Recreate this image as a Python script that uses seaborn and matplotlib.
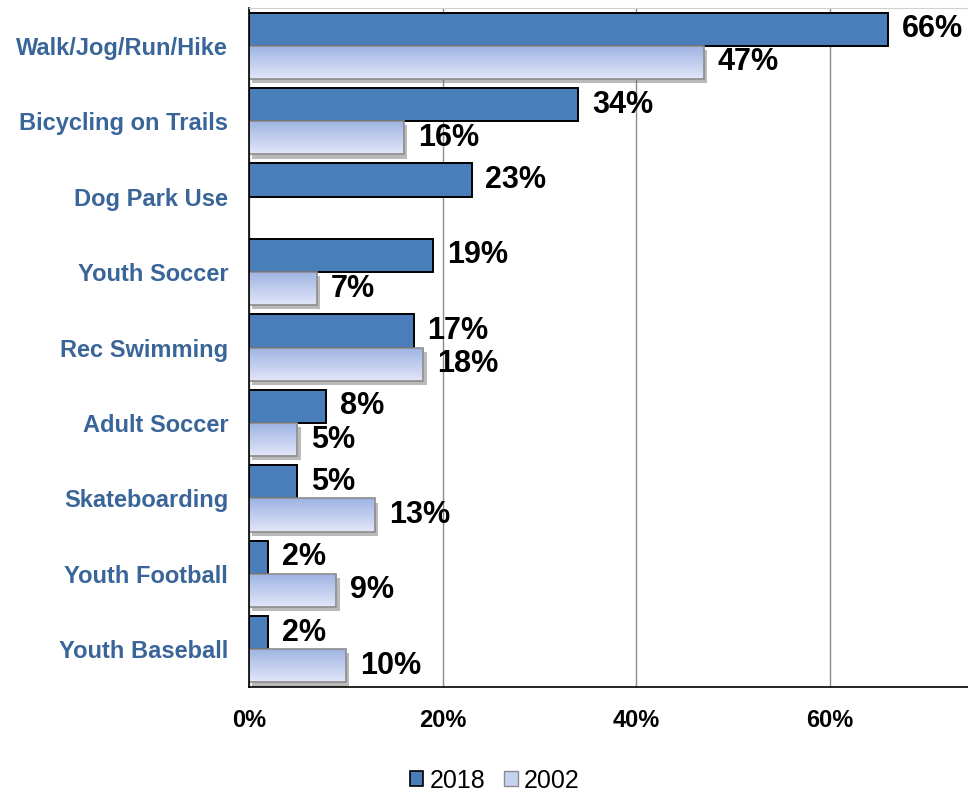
import numpy as np
import pandas as pd
import matplotlib
matplotlib.use('Agg')
import matplotlib.pyplot as plt
import matplotlib.patheffects as pe
from matplotlib.patches import Patch, Rectangle
from matplotlib.colors import to_rgb
import seaborn as sns

# data (percent of respondents)
activities = ['Walk/Jog/Run/Hike', 'Bicycling on Trails', 'Dog Park Use',
              'Youth Soccer', 'Rec Swimming', 'Adult Soccer',
              'Skateboarding', 'Youth Football', 'Youth Baseball']
pct_2018 = [66, 34, 23, 19, 17, 8, 5, 2, 2]
pct_2002 = [47, 16, None, 7, 18, 5, 13, 9, 10]
years = ['2018', '2002']
x_ticks = [0, 20, 40, 60]

rows = []
for act, a, b in zip(activities, pct_2018, pct_2002):
    rows.append((act, '2018', a))
    if b is not None:
        rows.append((act, '2002', b))
df = pd.DataFrame(rows, columns=['activity', 'year', 'pct'])

sns.set_style('white')
plt.rcParams['font.family'] = ['Liberation Sans', 'DejaVu Sans']
plt.rcParams['text.color'] = 'black'
plt.rcParams['xtick.color'] = 'black'
plt.rcParams['ytick.color'] = 'black'

dark = '#4A7EBB'
lab_col = '#3A6599'

fig = plt.figure(figsize=(9.68, 7.95), dpi=100)
ax = fig.add_axes([249 / 968, 1 - 687 / 795, (968 - 249) / 968, (687 - 8) / 795])

sns.barplot(data=df, y='activity', x='pct', hue='year', hue_order=years,
            order=activities, orient='h', width=0.88, saturation=1,
            palette={'2018': dark, '2002': 'white'},
            errorbar=None, legend=False, ax=ax)
ax.set_axisbelow(True)

# 2018 bars: solid with black outline
for p in ax.containers[0]:
    p.set_edgecolor('black')
    p.set_linewidth(1.4)

# 2002 bars: vertical gradient + soft shadow
top_c = np.array(to_rgb('#9DB3E3'))
bot_c = np.array(to_rgb('#E2E6F8'))
t = np.linspace(0, 1, 64)[:, None, None]
grad = top_c * (1 - t) + bot_c * t
for p in ax.containers[1]:
    p.set_edgecolor('none')
    p.set_path_effects([pe.SimplePatchShadow(offset=(2.5, -3), shadow_rgbFace='0.4', alpha=0.45),
                        pe.Normal()])
    x0, y0 = p.get_x(), p.get_y()
    w, h = p.get_width(), p.get_height()
    im = ax.imshow(grad, extent=(x0, x0 + w, y0 + h, y0), aspect='auto',
                   interpolation='bilinear', zorder=p.get_zorder() + 0.1)
    im.set_clip_path(p)
    ax.add_patch(Rectangle((x0, y0), w, h, fill=False, edgecolor='#8C8C8C',
                           linewidth=1.2, zorder=p.get_zorder() + 0.2))

for c in ax.containers:
    ax.bar_label(c, fmt='%.0f%%', padding=10, fontsize=22, fontweight='bold',
                 color='black')

ax.set_xlim(0, 74.3)
ax.set_ylim(len(activities) - 0.5, -0.5)
ax.set_xticks(x_ticks)
ax.set_xticklabels([f'{v}%' for v in x_ticks], fontsize=17, fontweight='bold')
ax.set_yticks(range(len(activities)))
ax.set_yticklabels(activities, fontsize=17, fontweight='bold', color=lab_col)
ax.set_yticks(np.arange(len(activities) + 1) - 0.5, minor=True)
ax.tick_params(axis='y', which='major', length=0, pad=15)
ax.tick_params(axis='y', which='minor', length=6, direction='out', color='black')
ax.tick_params(axis='x', length=4, direction='out', pad=12, color='black')
ax.set_xlabel('')
ax.set_ylabel('')
ax.grid(axis='x', color='#8C8C8C', linewidth=1)
ax.grid(axis='y', visible=False)

for s in ['left', 'bottom']:
    ax.spines[s].set_color('black')
    ax.spines[s].set_linewidth(1.2)
ax.spines['top'].set_color('#D0D0D0')
ax.spines['right'].set_visible(False)

handles = [Patch(facecolor=dark, edgecolor='black', linewidth=1.2),
           Patch(facecolor='#C6D3F0', edgecolor='#8C8C8C', linewidth=1.0)]
fig.legend(handles, years, loc='center', bbox_to_anchor=(0.511, 0.018), ncol=2,
           frameon=False, fontsize=18, handlelength=0.55, handleheight=0.55,
           handletextpad=0.25, columnspacing=0.75)

fig.savefig('out.png', dpi=100)
